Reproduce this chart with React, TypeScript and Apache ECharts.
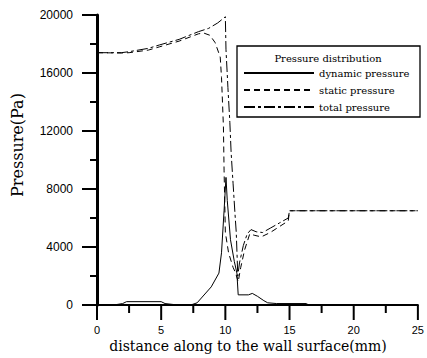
import React, { useEffect, useRef } from "react";
import * as echarts from "echarts";

// distance along the wall surface (mm) and pressure (Pa)
const dynX = [1.3, 2.0, 2.3, 5.0, 5.3, 6.0, 7.4, 7.8, 8.2, 8.9, 9.5, 9.7, 9.9, 10.05, 10.15, 10.4, 10.7, 10.9, 11.0, 11.8, 12.1, 12.5, 13.0, 13.3, 14.0, 16.3, 16.5, 25];
const dynY = [0, 100, 230, 230, 100, 30, 30, 150, 550, 1250, 2200, 3600, 6500, 8800, 7200, 4500, 3000, 2200, 700, 700, 800, 600, 300, 150, 100, 100, 0, 0];

const staticX = [0, 1.9, 2.5, 4, 4.85, 6.4, 7.9, 8.3, 8.8, 9.2, 9.6, 9.7, 9.85, 9.9, 9.95, 10.0, 10.25, 10.6, 10.8, 11.0, 11.2, 11.5, 11.9, 12.3, 12.8, 13.5, 14.2, 14.9, 15.0, 25];
const staticY = [17400, 17380, 17400, 17580, 17800, 18200, 18700, 18760, 18600, 18100, 17100, 15700, 12300, 9300, 7200, 5000, 3600, 2600, 2200, 1600, 2600, 3800, 4900, 4800, 4700, 5000, 5400, 5800, 6500, 6500];

const totalX = [0, 1.9, 2.5, 4, 4.85, 6.4, 7.9, 8.7, 9.4, 9.85, 10.0, 10.05, 10.2, 10.35, 10.45, 10.6, 10.75, 10.85, 10.97, 11.1, 11.4, 11.7, 12.0, 12.4, 12.9, 13.5, 14.2, 14.9, 15.0, 25];
const totalY = [17400, 17400, 17470, 17700, 17930, 18320, 18850, 19080, 19450, 19770, 19880, 17600, 15000, 12600, 10500, 8400, 6300, 5000, 2000, 2900, 4100, 4900, 5200, 5050, 5000, 5300, 5650, 6000, 6500, 6500];

// axis ticks
const xMajorTicks = [0, 5, 10, 15, 20, 25];
const xMinorTicks = [2.5, 7.5, 12.5, 17.5, 22.5];
const yMajorTicks = [0, 4000, 8000, 12000, 16000, 20000];
const yMinorTicks = [2000, 6000, 10000, 14000, 18000];

const seriesNames = ["dynamic pressure", "static pressure", "total pressure"];
const legendTitle = "Pressure distribution";
const xAxisName = "distance along to the wall surface(mm)";
const yAxisName = "Pressure(Pa)";

const pairs = (xs: number[], ys: number[]) => xs.map((x, i) => [x, ys[i]]);

export default function App() {
  const ref = useRef<HTMLDivElement>(null);
  useEffect(() => {
    const chart = echarts.init(ref.current!, null, { renderer: "svg" });
    const lineBase = { type: "line", symbol: "none", showSymbol: false, color: "#000" };
    const tickStyle = { stroke: "#000", lineWidth: 2 };
    const xTickData = [
      ...xMajorTicks.map((v) => [v, 0, 15]),
      ...xMinorTicks.map((v) => [v, 0, 8]),
    ];
    const yTickData = [
      ...yMajorTicks.map((v) => [0, v, 15]),
      ...yMinorTicks.map((v) => [0, v, 7]),
    ];
    chart.setOption({
      animation: false,
      backgroundColor: "#fff",
      grid: { left: 97, right: 5, top: 15, bottom: 53 },
      xAxis: {
        type: "value",
        min: 0,
        max: 25,
        interval: 5,
        axisLine: { show: true, onZero: false, lineStyle: { color: "#000", width: 2 } },
        axisTick: { show: false },
        splitLine: { show: false },
        axisLabel: { margin: 19, fontFamily: "Liberation Sans", fontSize: 11, color: "#000", formatter: (v: number) => String(v) },
      },
      yAxis: {
        type: "value",
        min: 0,
        max: 20000,
        interval: 4000,
        axisLine: { show: true, onZero: false, lineStyle: { color: "#000", width: 3 } },
        axisTick: { show: false },
        splitLine: { show: false },
        axisLabel: { margin: 24, fontFamily: "Liberation Sans", fontSize: 12, color: "#000", formatter: (v: number) => String(v) },
      },
      legend: {
        orient: "vertical",
        left: 243,
        top: 68,
        itemWidth: 70,
        itemHeight: 10,
        itemGap: 7,
        padding: 0,
        itemStyle: { opacity: 0 },
        textStyle: { fontFamily: "DejaVu Serif", fontSize: 10, color: "#000" },
        data: seriesNames,
      },
      graphic: [
        {
          type: "rect",
          z: 0,
          shape: { x: 237, y: 46, width: 183, height: 71 },
          style: { fill: "#fff", stroke: "#000", lineWidth: 1.3 },
        },
        {
          type: "text",
          z: 5,
          x: 328,
          y: 58,
          style: {
            text: legendTitle,
            fontFamily: "DejaVu Serif",
            fontSize: 10,
            fill: "#000",
            align: "center",
            verticalAlign: "middle",
          },
        },
        {
          type: "text",
          x: 248,
          y: 346,
          style: {
            text: xAxisName,
            fontFamily: "DejaVu Serif",
            fontSize: 14,
            fill: "#000",
            align: "center",
            verticalAlign: "middle",
          },
        },
        {
          type: "text",
          x: 17,
          y: 145,
          rotation: Math.PI / 2,
          style: {
            text: yAxisName,
            fontFamily: "DejaVu Serif",
            fontSize: 16,
            fill: "#000",
            align: "center",
            verticalAlign: "middle",
          },
        },
      ],
      series: [
        { ...lineBase, name: seriesNames[0], data: pairs(dynX, dynY), lineStyle: { color: "#000", width: 1, type: "solid" } },
        { ...lineBase, name: seriesNames[1], data: pairs(staticX, staticY), lineStyle: { color: "#000", width: 1, type: [6, 4] } },
        { ...lineBase, name: seriesNames[2], data: pairs(totalX, totalY), lineStyle: { color: "#000", width: 1, type: [11, 3, 3, 3] } },
        {
          type: "custom",
          name: "xTicks",
          silent: true,
          clip: false,
          z: 3,
          data: xTickData,
          renderItem: (_params: any, api: any) => {
            const p = api.coord([api.value(0), api.value(1)]);
            const len = api.value(2);
            return { type: "line", shape: { x1: p[0], y1: p[1], x2: p[0], y2: p[1] + len }, style: tickStyle };
          },
        },
        {
          type: "custom",
          name: "yTicks",
          silent: true,
          clip: false,
          z: 3,
          data: yTickData,
          renderItem: (_params: any, api: any) => {
            const p = api.coord([api.value(0), api.value(1)]);
            const len = api.value(2);
            return { type: "line", shape: { x1: p[0] - len, y1: p[1], x2: p[0], y2: p[1] }, style: tickStyle };
          },
        },
      ],
    });
    return () => chart.dispose();
  }, []);
  return <div ref={ref} style={{ position: "fixed", left: 0, top: 0, width: 427, height: 358, background: "#fff" }} />;
}
